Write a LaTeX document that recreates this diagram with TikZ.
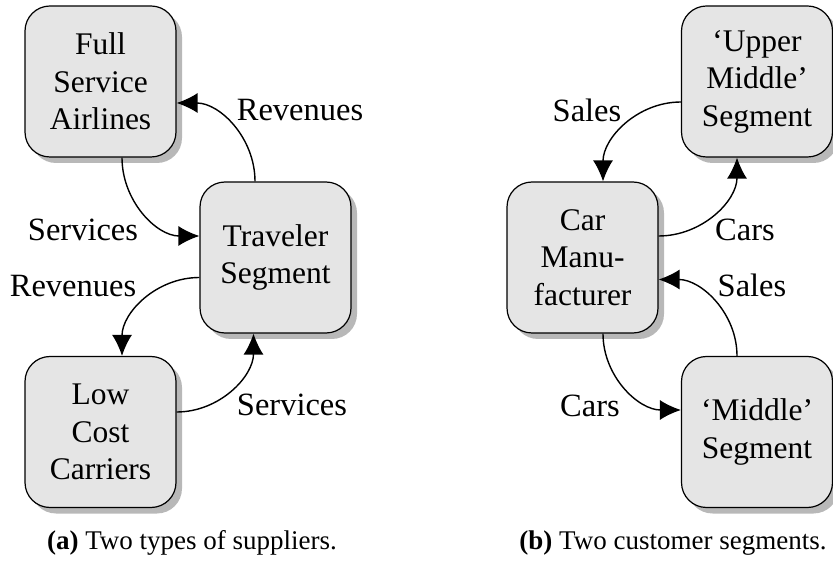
\documentclass[tikz,border=0pt]{standalone}
\usepackage{fontspec}
\setmainfont{Liberation Serif}
\usetikzlibrary{arrows.meta,shadows}
\begin{document}
\begin{tikzpicture}[x=1pt,y=1pt,
  box/.style={draw=black, line width=1.2pt, fill=black!10, rounded corners=25pt,
    minimum width=151pt, minimum height=151pt, inner sep=0pt, align=center,
    font=\fontsize{31.5}{37.5}\selectfont,
    drop shadow={shadow xshift=6pt, shadow yshift=-6pt, fill=black!28, opacity=1}},
  lbl/.style={font=\fontsize{32.5}{37.5}\selectfont, inner sep=0pt},
  captext/.style={font=\fontsize{27}{32}\selectfont, inner sep=0pt},
  flow/.style={line width=1.4pt, -{Latex[length=21pt,width=20pt]}}]
\useasboundingbox (0,0) rectangle (833,568);
% left panel
\node[box] (fsa) at (100.5,486.5) {Full\\Service\\Airlines};
\node[box] (ts) at (275.5,310.5) {Traveler\\Segment};
\node[box] (lcc) at (100.5,136) {Low\\Cost\\Carriers};
\draw[flow] ([xshift=21.5pt]fsa.south) to[out=-90,in=180] ([yshift=21.5pt]ts.west);
\draw[flow] ([xshift=-20.5pt]ts.north) to[out=90,in=0] ([yshift=-21.5pt]fsa.east);
\draw[flow] ([yshift=-20pt]ts.west) to[out=180,in=90] ([xshift=21.5pt]lcc.north);
\draw[flow] ([yshift=20pt]lcc.east) to[out=0,in=-90] ([xshift=-22pt]ts.south);
\node[lbl] (l1) at (83,338) {Services};
\node[lbl] (l2) at (300,458) {Revenues};
\node[lbl] (l3) at (73,282) {Revenues};
\node[lbl] (l4) at (292,163) {Services};
\node[captext] (capa) at (192,25) {\textbf{(a)} Two types of suppliers.};
% right panel
\node[box] (um) at (757,486.5) {‘Upper\\Middle’\\Segment};
\node[box] (cm) at (582.5,310.5) {Car\\Manu-\\facturer};
\node[box] (mid) at (757,136) {‘Middle’\\Segment};
\draw[flow] ([yshift=-20.5pt]um.west) to[out=180,in=90] ([xshift=20.5pt]cm.north);
\draw[flow] ([yshift=21.5pt]cm.east) to[out=0,in=-90] ([xshift=-20pt]um.south);
\draw[flow] ([xshift=-20pt]mid.north) to[out=90,in=0] ([yshift=-22pt]cm.east);
\draw[flow] ([xshift=20.5pt]cm.south) to[out=-90,in=180] ([yshift=22pt]mid.west);
\node[lbl] (r1) at (587,458) {Sales};
\node[lbl] (r2) at (745,338) {Cars};
\node[lbl] (r3) at (752,283) {Sales};
\node[lbl] (r4) at (590,162) {Cars};
\node[captext] (capb) at (673,25) {\textbf{(b)} Two customer segments.};
\end{tikzpicture}
\end{document}
